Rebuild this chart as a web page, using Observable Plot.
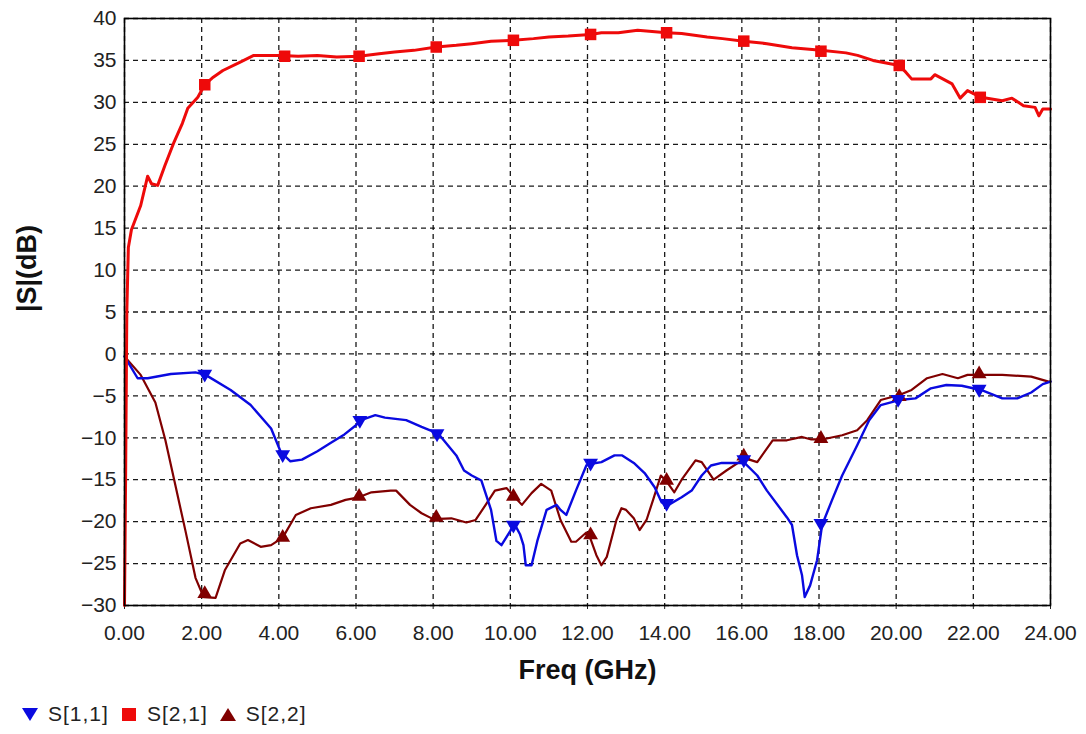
<!DOCTYPE html>
<html>
<head>
<meta charset="utf-8">
<script src="https://cdn.jsdelivr.net/npm/d3@7"></script>
<script src="https://cdn.jsdelivr.net/npm/@observablehq/plot@0.6"></script>
<style>
  html, body { margin: 0; padding: 0; background: #fff; }
  body { width: 1086px; height: 734px; position: relative; font-family: "Liberation Sans", Arial, sans-serif; overflow: hidden; }
  #chart { position: absolute; left: 0; top: 0; }
  #legend { position: absolute; left: 21px; top: 702px; display: flex; align-items: center; font-size: 21px; letter-spacing: 1px; color: #222; }
  #legend .item { display: flex; align-items: center; margin-right: 11px; }
  #legend svg { margin-right: 9px; }
</style>
</head>
<body>
<div id="chart"></div>
<div id="legend"></div>
<script>
// Tick values
const xTicks = [0, 2, 4, 6, 8, 10, 12, 14, 16, 18, 20, 22, 24];
const yTicks = [-30, -25, -20, -15, -10, -5, 0, 5, 10, 15, 20, 25, 30, 35, 40];
const seriesNames = ["S[1,1]", "S[2,1]", "S[2,2]"];

// S[2,1] trace: [freq GHz, dB]
const s21 = [[0,-30],[0.03,-14],[0.06,5],[0.1,12.7],[0.18,14.8],[0.42,17.7],[0.6,21.2],[0.7,20.3],[0.86,20.1],[1.05,22.5],[1.27,25.1],[1.5,27.5],[1.64,29.3],[1.9,30.6],[2.08,32.1],[2.3,33.0],[2.55,33.8],[3.0,34.8],[3.35,35.6],[4.05,35.6],[4.5,35.5],[5.0,35.6],[5.5,35.4],[6.08,35.5],[6.6,35.8],[7.0,36.0],[7.5,36.2],[8.08,36.6],[8.6,36.8],[9.0,37.0],[9.5,37.3],[10.08,37.4],[10.6,37.6],[11.0,37.8],[11.5,37.9],[12.08,38.1],[12.36,38.3],[12.8,38.3],[13.3,38.6],[14.05,38.3],[14.44,38.2],[15.1,37.8],[15.5,37.6],[16.05,37.3],[16.65,37.0],[17.3,36.5],[18.05,36.2],[18.7,35.9],[19.0,35.6],[19.4,35.0],[20.08,34.4],[20.25,33.6],[20.4,32.8],[20.9,32.8],[21.0,33.3],[21.45,32.2],[21.66,30.5],[21.85,31.4],[22.2,30.6],[22.75,30.2],[23.0,30.5],[23.3,29.6],[23.6,29.4],[23.7,28.4],[23.8,29.2],[24,29.2]];

// S[1,1] trace
const s11 = [[0,-0.3],[0.34,-2.9],[0.6,-2.9],[1.2,-2.4],[1.84,-2.2],[2.1,-2.5],[2.75,-4.3],[3.27,-6.1],[3.8,-8.9],[4.05,-11.7],[4.3,-12.8],[4.6,-12.6],[5.0,-11.6],[5.35,-10.6],[5.7,-9.6],[6.0,-8.5],[6.13,-7.9],[6.5,-7.3],[6.75,-7.6],[7.3,-7.9],[7.7,-8.7],[8.13,-9.5],[8.6,-12.1],[8.8,-13.9],[9.0,-14.5],[9.25,-15.1],[9.5,-18.6],[9.64,-22.3],[9.77,-22.8],[10.0,-21.1],[10.1,-20.2],[10.25,-21.5],[10.34,-22.8],[10.4,-25.2],[10.55,-25.2],[10.7,-22.3],[10.94,-18.6],[11.2,-18.0],[11.3,-18.6],[11.45,-19.2],[11.7,-16.3],[11.97,-13.3],[12.1,-13.1],[12.36,-12.9],[12.7,-12.1],[12.9,-12.1],[13.2,-13.0],[13.48,-14.2],[13.74,-15.9],[13.92,-17.7],[14.1,-18.0],[14.44,-17.1],[14.7,-16.3],[14.96,-14.5],[15.2,-13.3],[15.48,-13.0],[16.0,-13.0],[16.05,-12.9],[16.4,-14.5],[16.65,-16.3],[17.17,-19.5],[17.3,-20.4],[17.43,-24.0],[17.56,-26.4],[17.63,-29.0],[17.77,-27.6],[17.95,-24.6],[18.08,-20.4],[18.34,-17.4],[18.6,-14.5],[18.99,-10.9],[19.3,-7.9],[19.6,-6.1],[20.08,-5.5],[20.5,-5.3],[20.9,-4.1],[21.3,-3.7],[21.7,-3.8],[22.2,-4.3],[22.75,-5.3],[23.14,-5.3],[23.5,-4.6],[23.8,-3.6],[24,-3.3]];

// S[2,2] trace
const s22 = [[0,-0.3],[0.42,-2.5],[0.8,-5.8],[1.06,-10.3],[1.32,-15.7],[1.58,-21.1],[1.84,-26.7],[2.05,-29.0],[2.36,-29.1],[2.6,-25.8],[3.0,-22.6],[3.2,-22.2],[3.53,-23.0],[3.8,-22.8],[4.1,-21.9],[4.44,-19.2],[4.83,-18.4],[5.35,-18.0],[5.73,-17.4],[6.07,-17.1],[6.4,-16.5],[6.9,-16.3],[7.04,-16.3],[7.4,-18.0],[7.7,-19.0],[8.0,-19.7],[8.47,-19.6],[8.86,-20.1],[9.1,-19.8],[9.36,-18.0],[9.6,-16.3],[9.9,-16.0],[10.1,-17.0],[10.3,-18.0],[10.55,-16.6],[10.8,-15.5],[11.06,-16.3],[11.3,-19.8],[11.58,-22.4],[11.7,-22.4],[11.97,-21.3],[12.05,-21.7],[12.23,-24.0],[12.36,-25.2],[12.5,-24.2],[12.75,-19.8],[12.88,-18.4],[13.0,-18.6],[13.2,-19.6],[13.35,-21.0],[13.53,-19.8],[13.7,-17.4],[13.9,-14.5],[14.05,-15.2],[14.25,-16.5],[14.44,-15.0],[14.8,-12.7],[14.96,-12.9],[15.27,-15.0],[15.6,-13.9],[16.0,-12.7],[16.05,-12.4],[16.4,-12.9],[16.8,-10.3],[17.17,-10.3],[17.56,-9.9],[17.8,-10.2],[18.08,-10.2],[18.6,-9.7],[18.99,-9.1],[19.25,-7.9],[19.6,-5.5],[20.08,-4.9],[20.4,-4.3],[20.8,-2.9],[21.2,-2.4],[21.6,-2.9],[21.85,-2.5],[22.2,-2.5],[22.75,-2.5],[23.5,-2.7],[23.95,-3.3],[24,-3.3]];

// Marker positions
const s11Markers = [[2.08,-2.4],[4.1,-12.0],[6.1,-7.9],[8.1,-9.5],[10.08,-20.4],[12.08,-13.0],[14.05,-17.8],[16.05,-12.6],[18.05,-20.2],[20.05,-5.4],[22.15,-4.2]];
const s21Markers = [[2.08,32.1],[4.15,35.5],[6.08,35.5],[8.08,36.6],[10.08,37.4],[12.08,38.1],[14.05,38.3],[16.05,37.3],[18.05,36.1],[20.08,34.4],[22.18,30.6]];
const s22Markers = [[2.08,-28.6],[4.1,-21.9],[6.08,-17.0],[8.08,-19.5],[10.08,-17.0],[12.08,-21.6],[14.05,-15.1],[16.05,-12.2],[18.05,-10.1],[20.08,-5.1],[22.15,-2.4]];

const colors = { s11: "#0a0ae0", s21: "#ee0a0a", s22: "#800000" };
const font = '"Liberation Sans", Arial, sans-serif';

const chart = Plot.plot({
  width: 1086,
  height: 700,
  marginLeft: 124,
  marginRight: 36,
  marginTop: 18,
  marginBottom: 95,
  style: { fontFamily: font, background: "#fff", color: "#222" },
  x: { domain: [0, 24] },
  y: { domain: [-30, 40] },
  marks: [
    Plot.gridX(xTicks, { stroke: "#000", strokeOpacity: 0.9, strokeDasharray: "5,4", strokeWidth: 1.3 }),
    Plot.gridY(yTicks, { stroke: "#000", strokeOpacity: 0.9, strokeDasharray: "5,4", strokeWidth: 1.3 }),
    Plot.axisX(xTicks, { tickSize: 4, tickPadding: 16, tickFormat: d3.format(".2f"), fontSize: 21, label: null }),
    Plot.axisY(yTicks, { tickSize: 0, tickPadding: 8, fontSize: 21, label: null }),
    Plot.line(s22, { x: d => d[0], y: d => d[1], stroke: colors.s22, strokeWidth: 2.2 }),
    Plot.line(s11, { x: d => d[0], y: d => d[1], stroke: colors.s11, strokeWidth: 2.4 }),
    Plot.line(s21, { x: d => d[0], y: d => d[1], stroke: colors.s21, strokeWidth: 3 }),
    Plot.dot(s22Markers, { x: d => d[0], y: d => d[1], symbol: "triangle", r: 5.5, fill: colors.s22 }),
    Plot.dot(s11Markers, { x: d => d[0], y: d => d[1], symbol: "triangle", rotate: 180, r: 5.5, fill: colors.s11 }),
    Plot.dot(s21Markers, { x: d => d[0], y: d => d[1], symbol: "square", r: 6.5, fill: colors.s21 }),
    Plot.frame({ stroke: "#000", strokeWidth: 1.6 }),
    Plot.text(["|S|(dB)"], { frameAnchor: "left", dx: -97, rotate: -90, fontSize: 27, fontWeight: "bold", fill: "#111" }),
    Plot.text(["Freq (GHz)"], { frameAnchor: "bottom", dy: 73, fontSize: 27, fontWeight: "bold", fill: "#111" })
  ]
});
document.getElementById("chart").appendChild(chart);

// Legend
const legendSymbols = [
  { name: seriesNames[0], color: colors.s11, shape: "M1,3 L17,3 L9,16 Z" },
  { name: seriesNames[1], color: colors.s21, shape: "M2,3 L16,3 L16,16 L2,16 Z" },
  { name: seriesNames[2], color: colors.s22, shape: "M1,16 L17,16 L9,3 Z" }
];
const legend = document.getElementById("legend");
for (const s of legendSymbols) {
  const item = document.createElement("div");
  item.className = "item";
  item.innerHTML = `<svg width="18" height="19"><path d="${s.shape}" fill="${s.color}"/></svg><span>${s.name}</span>`;
  legend.appendChild(item);
}
</script>
</body>
</html>
